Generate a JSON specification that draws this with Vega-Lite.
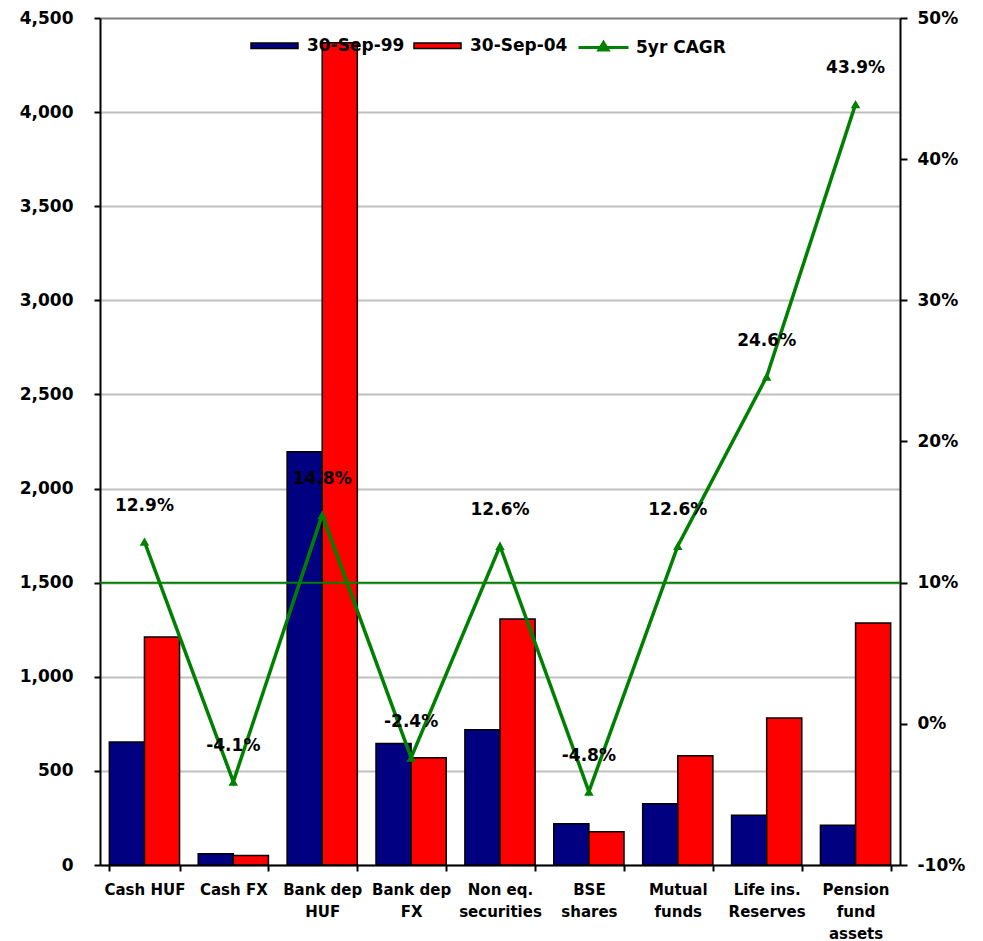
{
  "$schema": "https://vega.github.io/schema/vega-lite/v6.json",
  "width": 800,
  "height": 847,
  "autosize": "none",
  "padding": {"left": 100, "top": 18, "right": 83, "bottom": 76},
  "background": "white",
  "config": {
    "view": {"stroke": null},
    "font": "DejaVu Sans",
    "locale": {"number": {"decimal": ".", "thousands": ",", "grouping": [3], "currency": ["$", ""], "minus": "-"}},
    "axis": {
      "labelFont": "DejaVu Sans",
      "labelFontWeight": "bold",
      "labelColor": "black",
      "domainColor": "black",
      "domainWidth": 2,
      "tickColor": "black",
      "tickWidth": 2,
      "title": null
    }
  },
  "datasets": {
    "holdings": [
      {"cat": "Cash HUF", "series": "30-Sep-99", "value": 654},
      {"cat": "Cash HUF", "series": "30-Sep-04", "value": 1211},
      {"cat": "Cash FX", "series": "30-Sep-99", "value": 60},
      {"cat": "Cash FX", "series": "30-Sep-04", "value": 50},
      {"cat": "Bank dep|HUF", "series": "30-Sep-99", "value": 2195},
      {"cat": "Bank dep|HUF", "series": "30-Sep-04", "value": 4368},
      {"cat": "Bank dep|FX", "series": "30-Sep-99", "value": 645},
      {"cat": "Bank dep|FX", "series": "30-Sep-04", "value": 570},
      {"cat": "Non eq.|securities", "series": "30-Sep-99", "value": 719},
      {"cat": "Non eq.|securities", "series": "30-Sep-04", "value": 1307},
      {"cat": "BSE|shares", "series": "30-Sep-99", "value": 219},
      {"cat": "BSE|shares", "series": "30-Sep-04", "value": 177},
      {"cat": "Mutual|funds", "series": "30-Sep-99", "value": 326},
      {"cat": "Mutual|funds", "series": "30-Sep-04", "value": 581},
      {"cat": "Life ins.|Reserves", "series": "30-Sep-99", "value": 264},
      {"cat": "Life ins.|Reserves", "series": "30-Sep-04", "value": 781},
      {"cat": "Pension|fund|assets", "series": "30-Sep-99", "value": 211},
      {"cat": "Pension|fund|assets", "series": "30-Sep-04", "value": 1286}
    ],
    "growth": [
      {"cat": "Cash HUF", "cagr": 0.129},
      {"cat": "Cash FX", "cagr": -0.041},
      {"cat": "Bank dep|HUF", "cagr": 0.148},
      {"cat": "Bank dep|FX", "cagr": -0.024},
      {"cat": "Non eq.|securities", "cagr": 0.126},
      {"cat": "BSE|shares", "cagr": -0.048},
      {"cat": "Mutual|funds", "cagr": 0.126},
      {"cat": "Life ins.|Reserves", "cagr": 0.246},
      {"cat": "Pension|fund|assets", "cagr": 0.439}
    ],
    "reference": [{"cagr": 0.10}]
  },
  "layer": [
    {
      "data": {"name": "holdings"},
      "mark": {"type": "bar", "stroke": "black", "strokeWidth": 1.5},
      "encoding": {
        "x": {
          "field": "cat",
          "type": "nominal",
          "sort": null,
          "scale": {
            "domain": ["Cash HUF", "Cash FX", "Bank dep|HUF", "Bank dep|FX", "Non eq.|securities", "BSE|shares", "Mutual|funds", "Life ins.|Reserves", "Pension|fund|assets"],
            "paddingInner": 0.21,
            "paddingOuter": 0.105
          },
          "axis": {
            "labelAngle": 0,
            "labelExpr": "datum.value ? split(datum.value, '|') : ''",
            "labelFontSize": 15,
            "labelLineHeight": 22,
            "labelPadding": 11,
            "labelLimit": 200,
            "tickBand": "extent",
            "tickSize": 6
          }
        },
        "xOffset": {
          "field": "series",
          "type": "nominal",
          "sort": ["30-Sep-99", "30-Sep-04"]
        },
        "y": {
          "field": "value",
          "type": "quantitative",
          "scale": {"domain": [0, 4500], "nice": false},
          "axis": {
            "orient": "left",
            "values": [0, 500, 1000, 1500, 2000, 2500, 3000, 3500, 4000, 4500],
            "format": ",.0f",
            "labelFontSize": 17,
            "labelPadding": 21,
            "tickSize": 6,
            "grid": true,
            "gridColor": {"condition": {"test": "datum.value === 4500", "value": "#808080"}, "value": "#c0c0c0"},
            "gridWidth": 2
          }
        },
        "fill": {
          "field": "series",
          "type": "nominal",
          "scale": {"domain": ["30-Sep-99", "30-Sep-04"], "range": ["#000080", "#ff0000"]},
          "legend": {
            "orient": "none",
            "direction": "horizontal",
            "legendX": 150,
            "legendY": 3,
            "title": null,
            "symbolType": "M-1,-0.12L1,-0.12L1,0.12L-1,0.12Z",
            "symbolSize": 2209,
            "symbolStrokeColor": "black",
            "symbolStrokeWidth": 1.5,
            "labelFont": "DejaVu Sans",
            "labelFontSize": 17,
            "labelFontWeight": "bold",
            "labelColor": "black",
            "labelOffset": 8,
            "columnPadding": 6
          }
        }
      }
    },
    {
      "encoding": {
        "y": {
          "field": "cagr",
          "type": "quantitative",
          "scale": {"domain": [-0.1, 0.5], "nice": false},
          "axis": {
            "orient": "right",
            "values": [-0.1, 0, 0.1, 0.2, 0.3, 0.4, 0.5],
            "format": ".0%",
            "labelFontSize": 17,
            "labelPadding": 10,
            "tickSize": 7,
            "grid": false
          }
        }
      },
      "layer": [
        {
          "data": {"name": "reference"},
          "mark": {"type": "rule", "color": "#008000", "strokeWidth": 2}
        },
        {
          "data": {"name": "growth"},
          "mark": {
            "type": "line",
            "strokeWidth": 3.5,
            "point": {"shape": "triangle-up", "size": 90, "filled": true, "color": "#008000"}
          },
          "encoding": {
            "x": {"field": "cat", "type": "nominal", "sort": null},
            "color": {
              "datum": "5yr CAGR",
              "scale": {"range": ["#008000"]},
              "legend": {
                "orient": "none",
                "direction": "horizontal",
                "legendX": 477,
                "legendY": 3,
                "title": null,
                "symbolType": "M-1,0L1,0M0,-0.2L0.18,0.1L-0.18,0.1Z",
                "symbolSize": 2500,
                "symbolStrokeWidth": 3,
                "symbolFillColor": "#008000",
                "symbolStrokeColor": "#008000",
                "labelFont": "DejaVu Sans",
                "labelFontSize": 17,
                "labelFontWeight": "bold",
                "labelColor": "black",
                "labelOffset": 6
              }
            }
          }
        },
        {
          "data": {"name": "growth"},
          "mark": {"type": "text", "dy": -36, "fontSize": 17, "fontWeight": "bold", "color": "black", "font": "DejaVu Sans"},
          "encoding": {
            "x": {"field": "cat", "type": "nominal", "sort": null},
            "text": {"field": "cagr", "type": "quantitative", "format": ".1%"}
          }
        }
      ]
    }
  ],
  "resolve": {"scale": {"y": "independent"}}
}
